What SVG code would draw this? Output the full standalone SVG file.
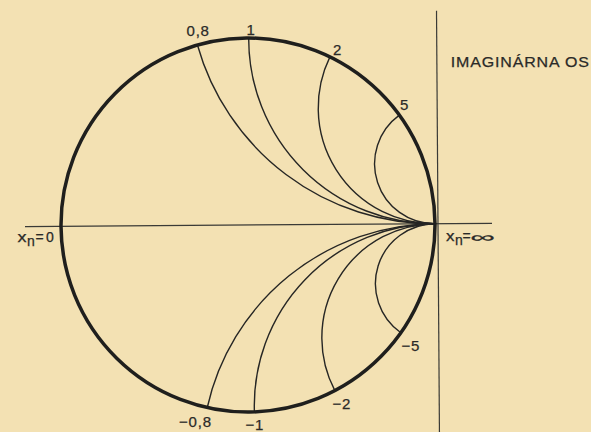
<svg xmlns="http://www.w3.org/2000/svg" width="591" height="432" viewBox="0 0 591 432">
  <style>
    .bg { fill: #f3e1b3; }
    .rim { fill: none; stroke: #1f1f1d; stroke-width: 3.5; }
    .arc { fill: none; stroke: #262624; stroke-width: 1.4; }
    .axis { fill: none; stroke: #3a3a36; stroke-width: 1.2; }
    .lbl { font-family: "Liberation Sans", Arial, sans-serif; font-size: 15px; fill: #2a2a28; stroke: #2a2a28; stroke-width: 0.25; letter-spacing: 0.8px; }
    .xn { font-family: "Liberation Sans", Arial, sans-serif; font-size: 14px; fill: #2a2a28; stroke: #2a2a28; stroke-width: 0.25; }
  </style>
  <rect class="bg" x="0" y="0" width="591" height="432"/>
  <g id="chart" transform="rotate(-0.4 248 225)">
    <g id="axes">
      <line class="axis" x1="25" y1="225" x2="492" y2="225"/>
      <line class="axis" x1="438" y1="12" x2="438" y2="434"/>
    </g>
    <g id="arcs">
      <path class="arc" d="M198.7 44.6 A245 245 0 0 0 435 225"/>
      <path class="arc" d="M250 38 A185 185 0 0 0 435 225"/>
      <path class="arc" d="M331.1 57.5 A116 116 0 0 0 435 225"/>
      <path class="arc" d="M400.1 116.2 A60 60 0 0 0 435 225"/>
      <path class="arc" d="M435 225 A235 235 0 0 0 206 407.2"/>
      <path class="arc" d="M435 225 A182 182 0 0 0 253.1 411.9"/>
      <path class="arc" d="M435 225 A114 114 0 0 0 333.7 391.2"/>
      <path class="arc" d="M435 225 A60 60 0 0 0 400.1 333.8"/>
    </g>
    <circle id="rim" class="rim" cx="248" cy="225" r="187"/>
  </g>
  <g id="labels">
    <text class="lbl" x="186.5" y="36">0,8</text>
    <text class="lbl" x="246.5" y="35">1</text>
    <text class="lbl" x="333" y="54.5">2</text>
    <text class="lbl" x="400" y="110">5</text>
    <text class="lbl" x="179" y="426.5">−0,8</text>
    <text class="lbl" x="245.5" y="430">−1</text>
    <text class="lbl" x="332.5" y="408.5">−2</text>
    <text class="lbl" x="401.5" y="351">−5</text>
    <text class="lbl" x="450.7" y="66.7" font-size="16" textLength="139" lengthAdjust="spacingAndGlyphs">IMAGINÁRNA OS</text>
    <text class="xn" x="17.5" y="241.7" textLength="9" lengthAdjust="spacingAndGlyphs">x</text>
    <text class="xn" x="27" y="245.5" font-size="12.5">n</text>
    <text class="xn" x="35.5" y="241.7">=</text>
    <text class="xn" x="46" y="241.7">0</text>
    <text class="xn" x="446" y="241" textLength="8.5" lengthAdjust="spacingAndGlyphs">x</text>
    <text class="xn" x="455" y="245" font-size="12.5">n</text>
    <text class="xn" x="462.5" y="241">=</text>
    <text class="xn" x="470" y="241.5" textLength="24" lengthAdjust="spacingAndGlyphs">∞</text>
  </g>
</svg>
